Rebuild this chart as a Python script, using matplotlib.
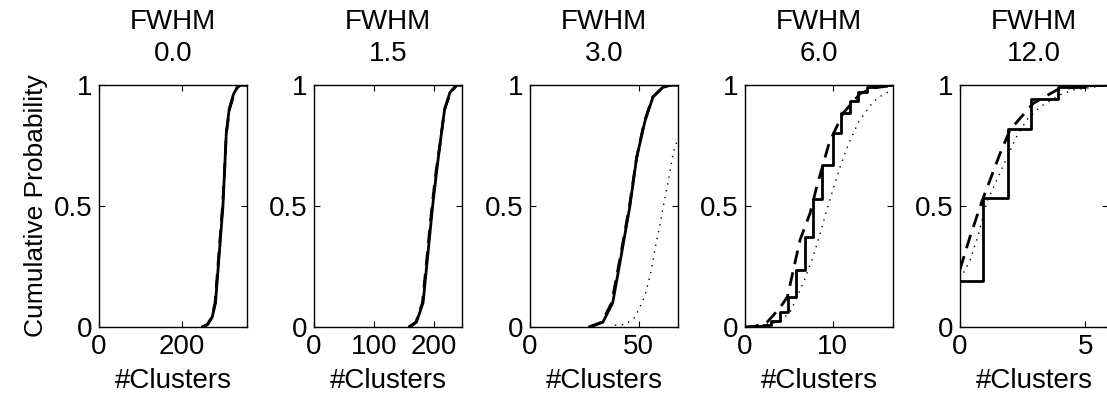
import matplotlib
matplotlib.use("Agg")
import matplotlib.pyplot as plt

plt.rcParams['font.family'] = ['Liberation Sans', 'DejaVu Sans']
plt.rcParams['font.size'] = 20

fwhm_labels = ['0.0', '1.5', '3.0', '6.0', '12.0']
x_limits = [357, 247, 68, 16.85, 5.9]
x_ticks = [[0, 200], [0, 100, 200], [0, 50], [0, 10], [0, 5]]

# panel 1 (FWHM 0.0)
p1_x = [250, 262, 273, 281, 290, 299, 303, 307, 314, 324, 333, 340, 357]
p1_y = [0, 0.01, 0.04, 0.1, 0.3, 0.5, 0.65, 0.8, 0.9, 0.96, 0.99, 1.0, 1.0]
p1_dash_x = [248, 261, 272, 280, 289, 298, 303, 307, 315, 325, 334, 342, 357]
p1_dash_y = [0, 0.01, 0.04, 0.1, 0.3, 0.5, 0.65, 0.8, 0.9, 0.96, 0.99, 1.0, 1.0]

# panel 2 (FWHM 1.5)
p2_x = [160, 171, 182, 190, 198, 205, 210, 218, 227, 238, 247]
p2_y = [0, 0.02, 0.1, 0.3, 0.5, 0.65, 0.75, 0.9, 0.97, 1.0, 1.0]
p2_dash_x = [158, 170, 181, 189, 197, 204, 210, 218, 228, 239, 247]
p2_dash_y = [0, 0.02, 0.1, 0.3, 0.5, 0.65, 0.75, 0.9, 0.97, 1.0, 1.0]

# panel 3 (FWHM 3.0)
p3_x = [27.5, 33.5, 38, 42, 45.9, 49, 52.8, 56.5, 61, 65, 68]
p3_y = [0, 0.02, 0.1, 0.3, 0.5, 0.7, 0.85, 0.95, 0.99, 1.0, 1.0]
p3_dash_x = [27, 33, 37.5, 41.7, 45.7, 49, 52.6, 56.3, 61, 65, 68]
p3_dash_y = [0, 0.02, 0.1, 0.3, 0.5, 0.7, 0.85, 0.95, 0.99, 1.0, 1.0]
p3_dot_x = [39, 44, 48.2, 50.9, 53, 55.6, 57.6, 59.8, 61.8, 63.9, 65.8, 67.6, 68]
p3_dot_y = [0.007, 0.011, 0.04, 0.09, 0.135, 0.23, 0.33, 0.425, 0.525, 0.62, 0.72, 0.77, 0.78]

# panel 4 (FWHM 6.0)
p4_x = [0, 1, 2, 3, 4, 4.85, 5.8, 6.8, 7.75, 8.75, 10, 10.95, 11.95, 12.9, 13.9, 15, 16.85]
p4_y = [0, 0.004, 0.01, 0.025, 0.06, 0.125, 0.235, 0.37, 0.53, 0.67, 0.80, 0.885, 0.935, 0.97,
        0.99, 1.0, 1.0]
p4_dash_x = [0, 1.14, 2.47, 4.0, 4.83, 5.5, 6.27, 7.41, 8.17, 9.5, 10.08, 11.2, 13.1, 14.6, 16.2, 16.85]
p4_dash_y = [0, 0.003, 0.018, 0.08, 0.125, 0.235, 0.36, 0.47, 0.58, 0.75, 0.80, 0.885, 0.964,
             0.988, 0.995, 1.0]
p4_dot_x = [2.5, 4.2, 5.13, 5.63, 6.73, 7.68, 8.48, 9.24, 10.04, 10.84, 11.79, 12.93, 14.56, 15.7, 16.7]
p4_dot_y = [0.005, 0.03, 0.062, 0.10, 0.19, 0.283, 0.377, 0.474, 0.57, 0.663, 0.757, 0.847, 0.93,
            0.96, 0.978]

# panel 5 (FWHM 12.0)
p5_x = [0, 0.93, 1.9, 2.83, 3.9, 5.0, 5.9]
p5_y = [0.19, 0.535, 0.82, 0.943, 0.99, 1.0, 1.0]
p5_dash_x = [0, 0.4, 0.87, 1.2, 1.6, 2.0, 2.4, 2.93, 3.87, 4.8, 5.9]
p5_dash_y = [0.238, 0.373, 0.518, 0.608, 0.718, 0.815, 0.863, 0.925, 0.98, 0.995, 1.0]
p5_dot_x = [0, 0.2, 0.4, 0.73, 1.07, 1.47, 1.87, 2.27, 2.67, 3.2, 4.0, 4.53, 5.6, 5.9]
p5_dot_y = [0.2, 0.235, 0.276, 0.38, 0.518, 0.608, 0.70, 0.79, 0.857, 0.91, 0.96, 0.98, 0.995, 1.0]

solid = [(p1_x, p1_y), (p2_x, p2_y), (p3_x, p3_y), (p4_x, p4_y), (p5_x, p5_y)]
dashed = [(p1_dash_x, p1_dash_y), (p2_dash_x, p2_dash_y), (p3_dash_x, p3_dash_y),
          (p4_dash_x, p4_dash_y), (p5_dash_x, p5_dash_y)]
dotted = [(p1_dash_x, p1_dash_y), (p2_dash_x, p2_dash_y), (p3_dot_x, p3_dot_y),
          (p4_dot_x, p4_dot_y), (p5_dot_x, p5_dot_y)]

fig = plt.figure(figsize=(11.07, 4.0), dpi=100)
lefts = [99, 314, 530, 745, 960]

for i in range(5):
    ax = fig.add_axes([lefts[i] / 1107, 73 / 400, 148 / 1107, 242 / 400])
    sx, sy = solid[i]
    if i >= 3:
        ax.step(sx, sy, where='post', color='black', linewidth=2.0)
    else:
        ax.plot(sx, sy, color='black', linewidth=2.0)
    dx, dy = dashed[i]
    ax.plot(dx, dy, color='black', linewidth=2.0, linestyle=(0, (5, 3)))
    tx, ty = dotted[i]
    ax.plot(tx, ty, color='black', linewidth=1.0, linestyle=(0, (1, 4)))

    ax.set_xlim(0, x_limits[i])
    ax.set_ylim(0, 1)
    ax.set_xticks(x_ticks[i])
    ax.set_yticks([0, 0.5, 1])
    ax.set_yticklabels(['0', '0.5', '1'])
    ax.tick_params(direction='in', length=4, width=0.8, top=True, right=True, pad=5)
    for s in ax.spines.values():
        s.set_linewidth(1.0)
    ax.set_title('FWHM\n' + fwhm_labels[i], pad=17, linespacing=1.3, fontsize=20)
    ax.set_xlabel('#Clusters', labelpad=6)
    if i == 0:
        ax.set_ylabel('Cumulative Probability', labelpad=4, fontsize=19)

fig.savefig('out.png', dpi=100)
